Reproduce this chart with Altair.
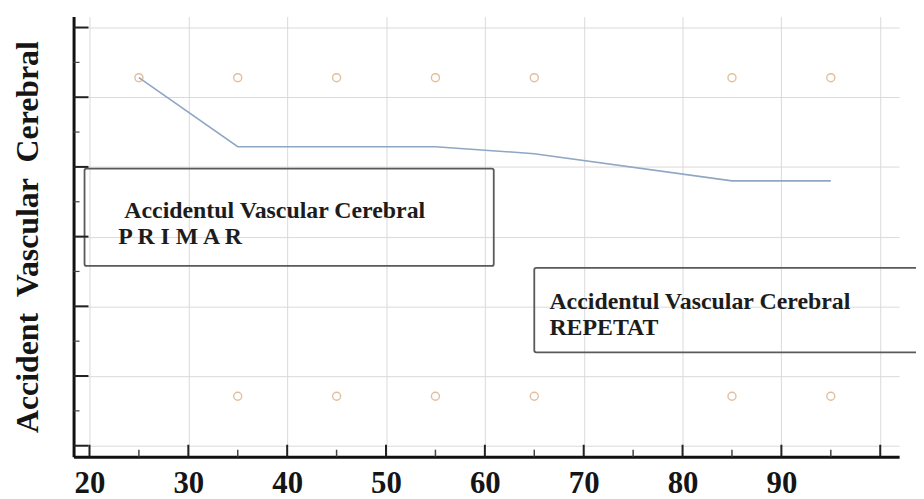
import altair as alt
import pandas as pd

# ---------------- data ----------------
top_ages = [25, 35, 45, 55, 65, 85, 95]
top_vals = [5.28, 5.28, 5.28, 5.28, 5.28, 5.28, 5.28]
bottom_ages = [35, 45, 55, 65, 85, 95]
bottom_vals = [0.71, 0.71, 0.71, 0.71, 0.71, 0.71]
line_ages = [25, 35, 45, 55, 65, 85, 95]
line_vals = [5.28, 4.29, 4.29, 4.29, 4.19, 3.80, 3.80]

x_ticks_major = [20, 30, 40, 50, 60, 70, 80, 90, 100]
x_ticks_minor = [25, 35, 45, 55, 65, 75, 85, 95]
y_ticks_major = [0, 1, 2, 3, 4, 5, 6]
y_ticks_minor = [0.5, 1.5, 2.5, 3.5, 4.5, 5.5]

box_x = [19.5, 65.0]
box_x2 = [60.9, 107.0]
box_y = [3.976, 2.55]
box_y2 = [2.58, 1.34]

label_x = [23.52, 22.91, 66.53, 66.53]
label_y = [3.264, 2.893, 1.967, 1.582]
label_text = ["Accidentul Vascular Cerebral", "P R I M A R",
              "Accidentul Vascular Cerebral", "REPETAT"]

y_title = "Accident\u2002Vascular\u2002Cerebral"

# ---------------- frames ----------------
points = pd.DataFrame({"x": top_ages + bottom_ages, "y": top_vals + bottom_vals})
line_df = pd.DataFrame({"x": line_ages, "y": line_vals})
xmaj = pd.DataFrame({"x": x_ticks_major})
xmin = pd.DataFrame({"x": x_ticks_minor})
ymaj = pd.DataFrame({"y": y_ticks_major})
ymin = pd.DataFrame({"y": y_ticks_minor})
boxes = pd.DataFrame({"x": box_x, "x2": box_x2, "y": box_y, "y2": box_y2})
labels = pd.DataFrame({"x": label_x, "y": label_y, "t": label_text})

W, H = 831, 443
SERIF = "Liberation Serif"

x_scale = alt.Scale(domain=[18.39, 101.91], nice=False, zero=False)
y_scale = alt.Scale(domain=[-0.157, 6.157], nice=False, zero=False)

x_axis = alt.Axis(
    values=x_ticks_major, title=None, grid=True, gridColor="#dadada", gridWidth=1,
    ticks=False, tickSize=0, domain=True, domainColor="#111111", domainWidth=3,
    labelFont=SERIF, labelFontSize=31, labelFontWeight="bold", labelColor="#151515",
    labelPadding=36, labelBaseline="alphabetic", labelFlush=False, labelOverlap=False,
    labelExpr="datum.value == 100 ? '' : datum.label",
)
y_axis = alt.Axis(
    values=y_ticks_major, grid=True, gridColor="#dadada", gridWidth=1,
    ticks=False, tickSize=0, labels=False, domain=True, domainColor="#111111",
    domainWidth=3, title=y_title, titleFont=SERIF, titleFontSize=32,
    titleFontWeight="bold", titleColor="#151515", titleAngle=270,
    titleX=-36, titleY=221.5, titleAlign="center", titleBaseline="alphabetic",
)

X = alt.X("x:Q", scale=x_scale, axis=x_axis)
Y = alt.Y("y:Q", scale=y_scale, axis=y_axis)

line = alt.Chart(line_df).mark_line(color="#8fa6c4", strokeWidth=1.6).encode(x=X, y=Y)

pts = alt.Chart(points).mark_point(
    shape="circle", size=65, filled=False, color="#d6a372", strokeWidth=1.4
).encode(x=X, y=Y)

xt_major = alt.Chart(xmaj).mark_rule(color="#222222", strokeWidth=2).encode(
    x=X, y=alt.value(H), y2=alt.value(H - 12))
xt_minor = alt.Chart(xmin).mark_rule(color="#444444", strokeWidth=1.5).encode(
    x=X, y=alt.value(H), y2=alt.value(H - 7))
yt_major = alt.Chart(ymaj).mark_rule(color="#222222", strokeWidth=2).encode(
    y=Y, x=alt.value(0), x2=alt.value(15))
yt_minor = alt.Chart(ymin).mark_rule(color="#444444", strokeWidth=1.2).encode(
    y=Y, x=alt.value(0), x2=alt.value(6))

rects = alt.Chart(boxes).mark_rect(
    fillOpacity=0, stroke="#5a5a5a", strokeWidth=1.8, cornerRadius=2
).encode(x=X, x2="x2:Q", y=Y, y2="y2:Q")

texts = alt.Chart(labels).mark_text(
    align="left", baseline="alphabetic", font=SERIF, fontSize=24,
    fontWeight="bold", color="#1c1c1c"
).encode(x=X, y=Y, text="t:N")

chart = alt.layer(
    rects, line, pts, xt_major, xt_minor, yt_major, yt_minor, texts
).properties(
    width=W, height=H,
    autosize=alt.AutoSizeParams(type="none"),
    padding={"left": 66, "top": 7, "right": 17, "bottom": 41},
).configure_view(strokeWidth=0)

chart.save("out.html", embed_options={"renderer": "svg", "actions": False})
